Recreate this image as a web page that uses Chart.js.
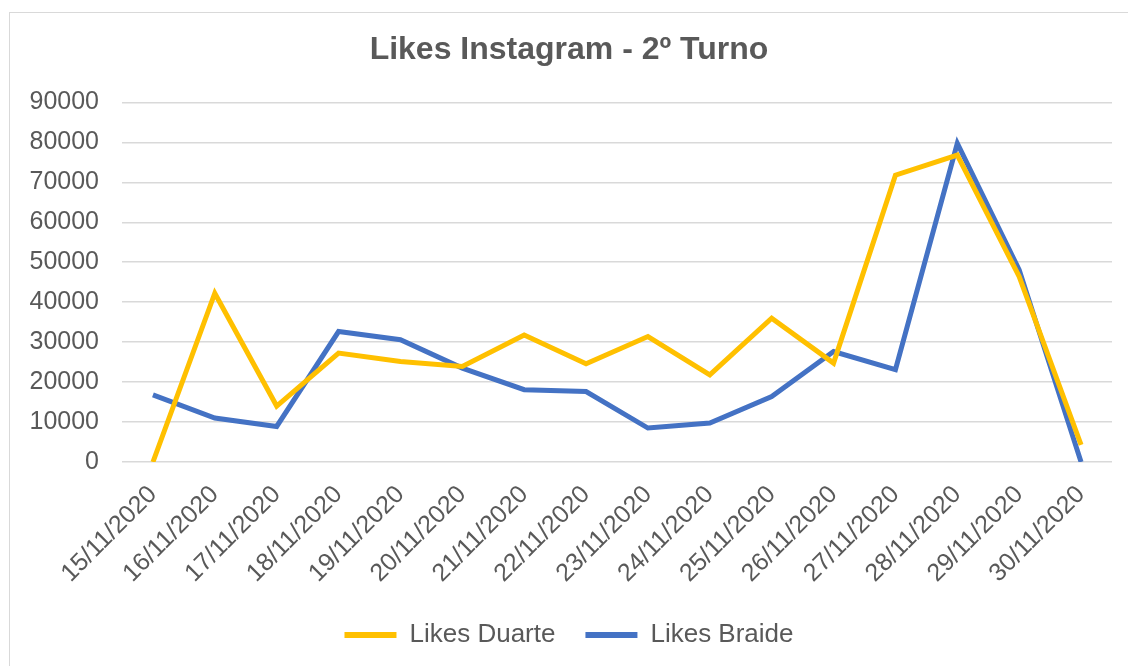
<!DOCTYPE html>
<html>
<head>
<meta charset="utf-8">
<script src="https://cdn.jsdelivr.net/npm/chart.js@4/dist/chart.umd.min.js"></script>
<style>
  html, body { margin: 0; padding: 0; background: #fff; overflow: hidden; }
  #wrap {
    position: absolute; left: 9px; top: 12px;
    width: 1140px; height: 700px;
    border: 1px solid #d9d9d9; background: #fff;
  }
  #chart { display: block; }
</style>
</head>
<body>
<div id="wrap"><canvas id="chart" width="1140" height="700"></canvas></div>
<script>
const labels = [
  "15/11/2020", "16/11/2020", "17/11/2020", "18/11/2020", "19/11/2020", "20/11/2020",
  "21/11/2020", "22/11/2020", "23/11/2020", "24/11/2020", "25/11/2020", "26/11/2020",
  "27/11/2020", "28/11/2020", "29/11/2020", "30/11/2020",
];
const likesDuarte = [0, 42250, 14000, 27250, 25150, 23900, 31800, 24600, 31400, 21800, 36000, 24750, 71800, 76800, 46400, 4300];
const likesBraide = [16800, 11000, 8900, 32650, 30600, 23500, 18100, 17650, 8500, 9750, 16400, 27650, 23100, 79750, 48100, 0];

const TEXT = "#595959";
const GRID = "#d9d9d9";
const FONT = "'Liberation Sans', Arial, sans-serif";

new Chart(document.getElementById("chart"), {
  type: "line",
  data: {
    labels,
    datasets: [
      { label: "Likes Duarte", data: likesDuarte, borderColor: "#FFC000", backgroundColor: "#FFC000", borderWidth: 5, pointRadius: 0, tension: 0 },
      { label: "Likes Braide", data: likesBraide, borderColor: "#4472C4", backgroundColor: "#4472C4", borderWidth: 5, pointRadius: 0, tension: 0 },
    ],
  },
  options: {
    responsive: false,
    animation: false,
    layout: { padding: { left: 16, right: 38, top: 0, bottom: 55 } },
    scales: {
      x: {
        offset: true,
        grid: { display: false, drawTicks: false },
        border: { display: false },
        ticks: { color: TEXT, font: { family: FONT, size: 25 }, minRotation: 45, maxRotation: 45, padding: 18, autoSkip: false },
        afterFit: (s) => { s.height = 130; },
      },
      y: {
        min: 0,
        max: 90000,
        grid: { color: GRID, lineWidth: 1.5, drawTicks: false },
        border: { display: false },
        ticks: { stepSize: 10000, color: TEXT, font: { family: FONT, size: 25 }, padding: 23, callback: (v) => String(v) },
        afterFit: (s) => { s.width = 96; },
      },
    },
    plugins: {
      title: {
        display: true,
        text: "Likes Instagram - 2º Turno",
        color: TEXT,
        font: { family: FONT, size: 32, weight: "bold" },
        padding: { top: 18, bottom: 33 },
      },
      legend: {
        position: "bottom",
        labels: {
          color: TEXT,
          font: { family: FONT, size: 26 },
          boxWidth: 52,
          boxHeight: 6,
          padding: 30,
          generateLabels: (chart) =>
            Chart.defaults.plugins.legend.labels.generateLabels(chart).map((l) => ({ ...l, lineWidth: 0 })),
        },
      },
      tooltip: { enabled: false },
    },
  },
});
</script>
</body>
</html>
